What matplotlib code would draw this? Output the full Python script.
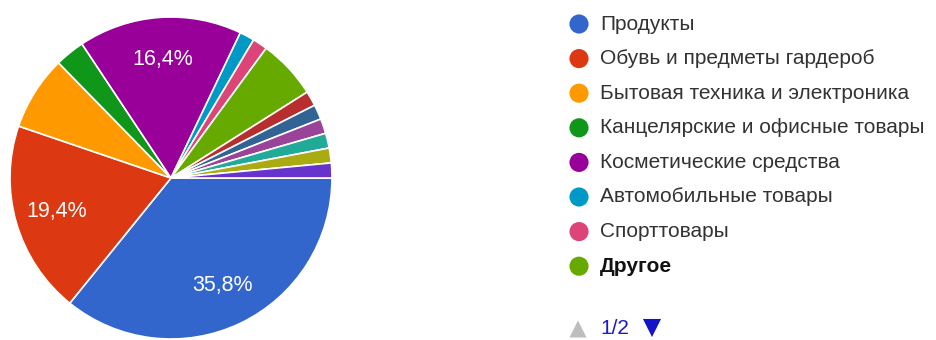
import numpy as np
import matplotlib
matplotlib.use("Agg")
import matplotlib.pyplot as plt
from matplotlib.transforms import Bbox, TransformedBbox

plt.rcParams["font.family"] = ["Liberation Sans", "DejaVu Sans"]

# responses per category (67 answers in total)
categories = ["Продукты", "Обувь и предметы гардероб", "Бытовая техника и электроника",
              "Канцелярские и офисные товары", "Косметические средства",
              "Автомобильные товары", "Спорттовары", "Другое",
              "other 1", "other 2", "other 3", "other 4", "other 5", "other 6"]
counts = [24, 13, 5, 2, 11, 1, 1, 4, 1, 1, 1, 1, 1, 1]
colors = ["#3366cc", "#dc3912", "#ff9900", "#109618", "#990099", "#0099c6",
          "#dd4477", "#66aa00", "#b82e2e", "#316395", "#994499", "#22aa99",
          "#aaaa11", "#6633cc"]
legend_shown = 8  # first page of the legend
page_label = "1/2"

W, H = 936, 340
fig = plt.figure(figsize=(W / 100, H / 100), dpi=100)
fig.patch.set_facecolor("white")

# pie, centred at (171, 178) px with radius 161 px
cx, cy, r = 171, 178, 161
ax = fig.add_axes([(cx - r) / W, (H - cy - r) / H, 2 * r / W, 2 * r / H])
ax.pie(counts, colors=colors, startangle=0, counterclock=False, radius=1,
       wedgeprops=dict(edgecolor="white", linewidth=1.2),
       autopct=lambda p: f"{p:.1f}%".replace(".", ",") if p > 10 else "",
       pctdistance=0.74, textprops=dict(color="white", fontsize=15.5))
ax.set_xlim(-1, 1); ax.set_ylim(-1, 1)
ax.set_aspect("equal")
ax.axis("off")

# legend drawn in pixel coordinates
lg = fig.add_axes([0, 0, 1, 1])
lg.set_xlim(0, W); lg.set_ylim(H, 0)
lg.axis("off")
y0, dy = 24, 34.6
for i in range(legend_shown):
    y = y0 + i * dy
    lg.scatter([579], [y], s=190, color=colors[i], edgecolors="none")
    bold = categories[i] == "Другое"
    t = lg.text(600, y, categories[i], va="center", ha="left", fontsize=15,
                color="#111111" if bold else "#333333",
                fontweight="bold" if bold else "normal")
    if i == 1:
        # long label is cut off at the legend edge
        t.set_clip_box(TransformedBbox(Bbox([[0, 0], [876 / W, 1]]), fig.transFigure))
        t.set_clip_on(True)

# pager
lg.scatter([578], [329], marker="^", s=150, color="#bdbdbd", edgecolors="none")
lg.text(600, 329, page_label, va="center", ha="left", fontsize=15, color="#1a1acc")
lg.scatter([652], [328], marker="v", s=170, color="#1515c8", edgecolors="none")

fig.savefig("out.png", dpi=100, facecolor="white")
